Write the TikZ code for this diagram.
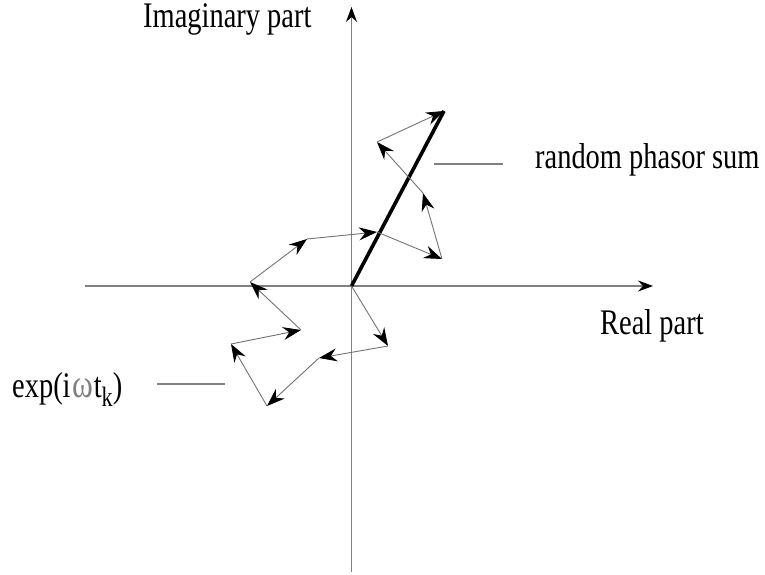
\documentclass[tikz,border=0pt]{standalone}
\usepackage{fontspec}
\usepackage{graphicx}
\setmainfont{Liberation Serif}
\usetikzlibrary{arrows.meta}
\definecolor{axgray}{gray}{0.5}
\definecolor{phgray}{gray}{0.45}
\tikzset{
  axis/.style={draw=axgray, line width=1.3pt, -{Stealth[length=15pt,width=11pt,inset=5pt,black]}},
  phasor/.style={draw=phgray, line width=0.9pt, -{Stealth[length=18pt,width=13pt,inset=6pt,black]}},
  sumline/.style={draw=black, line width=3.6pt},
  leader/.style={draw=axgray, line width=1.1pt},
  lbl/.style={anchor=base west, inner sep=0pt, font=\fontsize{36}{36}\selectfont}
}
\newcommand{\cond}[1]{\scalebox{0.79}[1]{#1}}
\begin{document}
\begin{tikzpicture}[x=1pt,y=-1pt]
\useasboundingbox (0,0) rectangle (765,575);
% axes
\coordinate (xl) at (85,286);
\coordinate (xr) at (653,286);
\coordinate (yb) at (351.5,572);
\coordinate (yt) at (351.5,7);
\draw[axis] (xl) -- (xr);
\draw[axis] (yb) -- (yt);
% phasor vertices
\coordinate (p0) at (351.5,286);
\coordinate (p1) at (388,346);
\coordinate (p2) at (319,358);
\coordinate (p3) at (267,406);
\coordinate (p4) at (231,344);
\coordinate (p5) at (301,330);
\coordinate (p6) at (250,282);
\coordinate (p7) at (307,239);
\coordinate (p8) at (377,232);
\coordinate (p9) at (442,259);
\coordinate (p10) at (423,193);
\coordinate (p11) at (377,142);
\coordinate (p12) at (444,111);
\draw[sumline] (p0) -- (p12);
\foreach \a/\b in {p0/p1,p1/p2,p2/p3,p3/p4,p4/p5,p5/p6,p6/p7,p7/p8,p8/p9,p9/p10,p10/p11,p11/p12}
  \draw[phasor] (\a) -- (\b);
% labels
\node[lbl] (imag) at (143,28) {\cond{Imaginary part}};
\node[lbl] (real) at (600,334) {\cond{Real part}};
\node[lbl] (sum) at (535,168) {\cond{random phasor sum}};
\node[lbl] (expo) at (12,397) {\cond{exp(i\hspace{2pt}\textcolor{gray}{\fontsize{40}{40}\selectfont ω}\hspace{1pt}t\raisebox{-9pt}{\fontsize{28}{28}\selectfont k})}};
% leaders
\coordinate (s1) at (434,164);
\coordinate (s2) at (503,164);
\coordinate (e1) at (157,384);
\coordinate (e2) at (225,384);
\draw[leader] (s1) -- (s2);
\draw[leader] (e1) -- (e2);
\end{tikzpicture}
\end{document}
